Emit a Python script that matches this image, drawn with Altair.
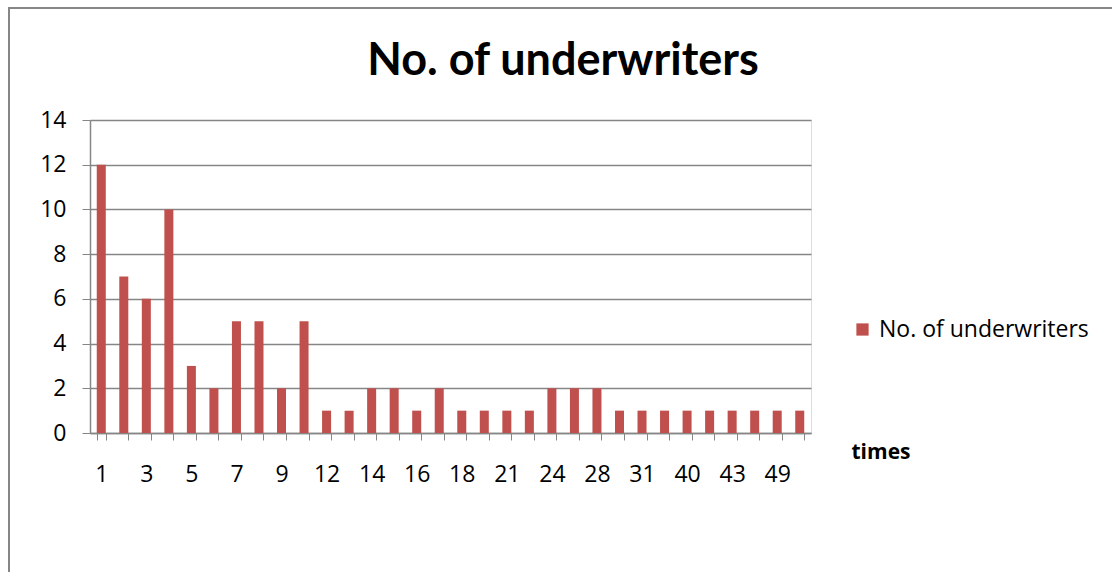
import altair as alt
import pandas as pd
import json

# Number of underwriters by count of times
times = ["1", "2", "3", "4", "5", "6", "7", "8", "9", "10", "12", "13", "14", "15",
         "16", "17", "18", "20", "21", "23", "24", "26", "28", "30", "31", "35",
         "40", "42", "43", "45", "49", "52"]
underwriters = [12, 7, 6, 10, 3, 2, 5, 5, 2, 5, 1, 1, 2, 2,
                1, 2, 1, 1, 1, 1, 2, 2, 2, 1, 1, 1,
                1, 1, 1, 1, 1, 1]
series_name = "No. of underwriters"
chart_title = "No. of underwriters"

df = pd.DataFrame({"times": times, "value": underwriters, "series": series_name})

FONT = "Open Sans"
TITLE_FONT = "Lato"
GRID = "#868686"
BAR = "#C0504D"

# show every other category label
label_expr = f"indexof({json.dumps(times)}, datum.value) % 2 === 0 ? datum.label : ''"

bars = alt.Chart(df).mark_bar(color=BAR).encode(
    x=alt.X(
        "times:N",
        sort=times,
        scale=alt.Scale(paddingInner=0.6, paddingOuter=0.3),
        axis=alt.Axis(
            title="times",
            titleFont=FONT,
            titleFontSize=21,
            titleFontWeight="bold",
            titleColor="#000000",
            titleX=761,
            titleY=19,
            titleAlign="left",
            titleBaseline="middle",
            labelAngle=0,
            labelFont=FONT,
            labelFontSize=23,
            labelColor="#000000",
            labelPadding=23,
            labelExpr=label_expr,
            labelOverlap=False,
            tickBand="extent",
            tickSize=7,
            tickColor=GRID,
            domainColor=GRID,
            domainWidth=1.5,
            grid=False,
        ),
    ),
    y=alt.Y(
        "value:Q",
        scale=alt.Scale(domain=[0, 14]),
        axis=alt.Axis(
            title=None,
            values=list(range(0, 15, 2)),
            labelFont=FONT,
            labelFontSize=23,
            labelColor="#000000",
            labelPadding=16,
            tickSize=8,
            tickColor=GRID,
            domainColor=GRID,
            domainWidth=1.5,
            gridColor=GRID,
            gridWidth=1.5,
        ),
    ),
    fill=alt.Fill(
        "series:N",
        scale=alt.Scale(domain=[series_name], range=[BAR]),
        legend=alt.Legend(
            title=None,
            orient="none",
            legendX=761,
            legendY=198,
            symbolType="square",
            symbolSize=150,
            symbolStrokeWidth=0,
            labelFont=FONT,
            labelFontSize=23,
            labelColor="#000000",
            labelOffset=5,
            labelLimit=400,
        ),
    ),
)

# Chart title as a text mark above the plot
title = alt.Chart(pd.DataFrame({"t": [chart_title]})).mark_text(
    font=TITLE_FONT, fontSize=45, fontWeight="bold", color="#000000",
    align="center", baseline="alphabetic", clip=False,
).encode(text="t:N", x=alt.value(473), y=alt.value(-45))

# Outer frame edges (left and top)
frame_left = alt.Chart(df.head(1)).mark_rule(color=GRID, strokeWidth=2, clip=False).encode(
    x=alt.value(-81), y=alt.value(-112), y2=alt.value(460)
)
frame_top = alt.Chart(df.head(1)).mark_rule(color=GRID, strokeWidth=2, clip=False).encode(
    x=alt.value(-82), x2=alt.value(1030), y=alt.value(-112)
)

chart = alt.layer(bars, title, frame_left, frame_top).properties(
    width=721,
    height=313,
    autosize=alt.AutoSizeParams(type="none"),
    padding={"left": 90, "top": 120, "right": 301, "bottom": 139},
).configure_view(stroke=None).configure(background="white")

chart.save("out.html", embed_options={"renderer": "svg", "actions": False})
